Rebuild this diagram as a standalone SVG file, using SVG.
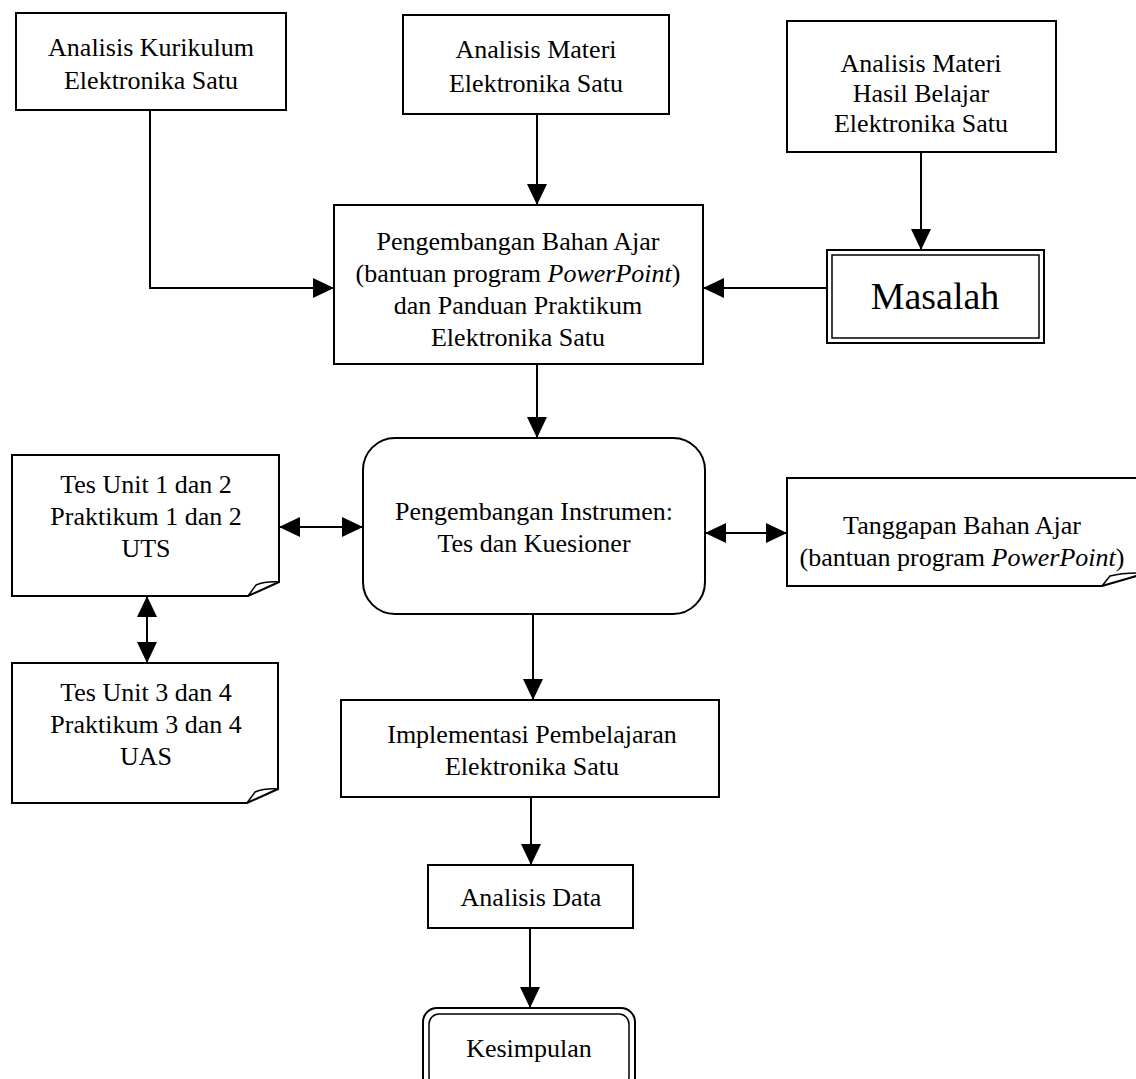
<svg xmlns="http://www.w3.org/2000/svg" width="1136" height="1079" viewBox="0 0 1136 1079">
<defs>
<marker id="ah" markerUnits="userSpaceOnUse" viewBox="0 0 21 20" refX="21" refY="10" markerWidth="21" markerHeight="20" orient="auto-start-reverse">
<path d="M0,0 L21,10 L0,20 Z" fill="#000"/>
</marker>
</defs>
<style>
.box{fill:#fff;stroke:#000;stroke-width:2}
.thin{fill:none;stroke:#000;stroke-width:1.5}
.t{font-family:"Liberation Serif","Times New Roman",serif;font-size:26px;fill:#000;text-anchor:middle}
.big{font-size:38px}
.c{fill:none;stroke:#000;stroke-width:2}
.a{marker-end:url(#ah)}
.b{marker-start:url(#ah);marker-end:url(#ah)}
</style>
<rect width="1136" height="1079" fill="#fff"/>
<g id="connectors">
<path class="c a" d="M150,110 V288 H334"/>
<path class="c a" d="M537,114 V205"/>
<path class="c a" d="M921,152 V250"/>
<path class="c a" d="M827,288 H703"/>
<path class="c a" d="M537,364 V438"/>
<path class="c b" d="M279,527 H363"/>
<path class="c b" d="M705,533 H787"/>
<path class="c b" d="M147,596 V663"/>
<path class="c a" d="M533,614 V700"/>
<path class="c a" d="M531,797 V865"/>
<path class="c a" d="M530,928 V1008"/>
</g>
<g id="kurikulum">
<rect class="box" x="16" y="13" width="270" height="97"/>
<text class="t" x="151" y="56">Analisis Kurikulum</text>
<text class="t" x="151" y="89">Elektronika Satu</text>
</g>
<g id="materi">
<rect class="box" x="403" y="15" width="266" height="99"/>
<text class="t" x="536" y="58">Analisis Materi</text>
<text class="t" x="536" y="92">Elektronika Satu</text>
</g>
<g id="hasil">
<rect class="box" x="787" y="21" width="269" height="131"/>
<text class="t" x="921" y="72">Analisis Materi</text>
<text class="t" x="921" y="102">Hasil Belajar</text>
<text class="t" x="921" y="132">Elektronika Satu</text>
</g>
<g id="masalah">
<rect class="box" x="827" y="250" width="217" height="93"/>
<rect class="thin" x="832" y="255" width="207" height="83"/>
<text class="t big" x="935" y="309">Masalah</text>
</g>
<g id="pengembangan">
<rect class="box" x="334" y="205" width="369" height="159"/>
<text class="t" x="518" y="250">Pengembangan Bahan Ajar</text>
<text class="t" x="518" y="282">(bantuan program <tspan font-style="italic">PowerPoint</tspan>)</text>
<text class="t" x="518" y="314">dan Panduan Praktikum</text>
<text class="t" x="518" y="346">Elektronika Satu</text>
</g>
<g id="instrumen">
<rect class="box" x="363" y="438" width="342" height="176" rx="32" ry="32"/>
<text class="t" x="534" y="520">Pengembangan Instrumen:</text>
<text class="t" x="534" y="552">Tes dan Kuesioner</text>
</g>
<g id="tes1">
<path class="box" d="M12,455 H279 V582 L248,596 H12 Z"/>
<path class="thin" d="M248,596 L256,585 Q266,581 279,582"/>
<text class="t" x="146" y="493">Tes Unit 1 dan 2</text>
<text class="t" x="146" y="525">Praktikum 1 dan 2</text>
<text class="t" x="146" y="557">UTS</text>
</g>
<g id="tes3">
<path class="box" d="M12,663 H278 V789 L247,803 H12 Z"/>
<path class="thin" d="M247,803 L255,792 Q265,788 278,789"/>
<text class="t" x="146" y="701">Tes Unit 3 dan 4</text>
<text class="t" x="146" y="733">Praktikum 3 dan 4</text>
<text class="t" x="146" y="765">UAS</text>
</g>
<g id="tanggapan">
<path class="box" d="M787,478 H1140 V575 L1102,586 H787 Z"/>
<path class="thin" d="M1102,586 L1110,576 Q1122,573 1136,573"/>
<text class="t" x="962" y="534">Tanggapan Bahan Ajar</text>
<text class="t" x="962" y="566">(bantuan program <tspan font-style="italic">PowerPoint</tspan>)</text>
</g>
<g id="implementasi">
<rect class="box" x="341" y="700" width="378" height="97"/>
<text class="t" x="532" y="743">Implementasi Pembelajaran</text>
<text class="t" x="532" y="775">Elektronika Satu</text>
</g>
<g id="analisis-data">
<rect class="box" x="428" y="865" width="205" height="63"/>
<text class="t" x="531" y="906">Analisis Data</text>
</g>
<g id="kesimpulan">
<rect class="box" x="423" y="1008" width="212" height="85" rx="14" ry="14"/>
<rect class="thin" x="429" y="1014" width="200" height="73" rx="10" ry="10"/>
<text class="t" x="529" y="1057">Kesimpulan</text>
</g>
</svg>
